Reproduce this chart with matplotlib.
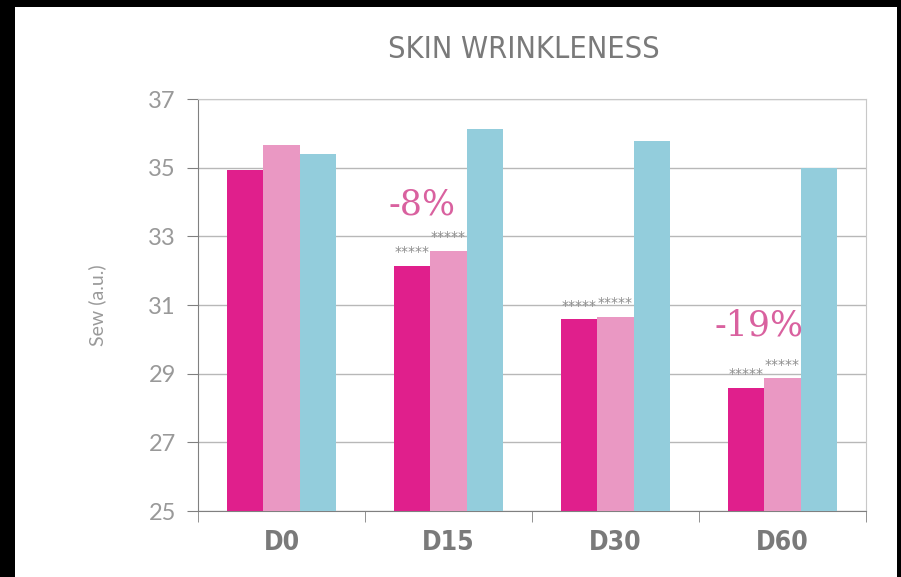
import numpy as np
import matplotlib
matplotlib.use('Agg')
import matplotlib.pyplot as plt
from matplotlib.patches import Rectangle

# Daten
kategorien = ['D0', 'D15', 'D30', 'D60']
serie_a = [34.93, 32.14, 30.58, 28.59]   # magenta
serie_b = [35.66, 32.57, 30.66, 28.86]   # rosa
serie_c = [35.39, 36.12, 35.79, 35.00]   # blau
sterne_a = ['', '*****', '*****', '*****']
sterne_b = ['', '*****', '*****', '*****']
prozent = ['-8%', '-19%']
prozent_pos = [(0.84, 33.94), (2.86, 30.39)]
yticks = [25, 27, 29, 31, 33, 35, 37]

farben = ['#e01f8c', '#ea98c3', '#93cddc']

fig = plt.figure(figsize=(9.01, 5.77), dpi=100)
fig.patch.set_facecolor('white')
# schwarzer Rand links, oben, rechts
for rx, ry, rw, rh in [(0, 0, 15, 577), (0, 570, 901, 7), (897, 0, 4, 577)]:
    fig.patches.append(Rectangle((rx/901, ry/577), rw/901, rh/577, transform=fig.transFigure,
                                 facecolor='black', edgecolor='none'))

ax = fig.add_axes([198/901, 66/577, 668/901, 412/577])
ax.set_facecolor('white')

x = np.arange(len(kategorien))
w = 0.219
ax.bar(x - w, serie_a, w, color=farben[0], zorder=3)
ax.bar(x, serie_b, w, color=farben[1], zorder=3)
ax.bar(x + w, serie_c, w, color=farben[2], zorder=3)

# Sternchen ueber den Balken
for i in range(len(kategorien)):
    if sterne_a[i]:
        ax.text(x[i] - w, serie_a[i] + 0.2, sterne_a[i], ha='center', va='bottom',
                fontsize=10, color='#8c8c8c', zorder=4)
    if sterne_b[i]:
        ax.text(x[i], serie_b[i] + 0.2, sterne_b[i], ha='center', va='bottom',
                fontsize=10, color='#8c8c8c', zorder=4)

for txt, (px, py) in zip(prozent, prozent_pos):
    ax.text(px, py, txt, ha='center', va='center', fontsize=25,
            family='DejaVu Serif', color='#d9619f', zorder=5)

ax.set_xlim(-0.5, 3.5)
ax.set_ylim(25, 37)
ax.set_yticks(yticks)
ax.set_yticklabels([str(v) for v in yticks], fontsize=17, color='#999999',
                   family='Lato')
ax.yaxis.grid(True, color='#b8b8b8', linewidth=1, zorder=1)
ax.set_axisbelow(True)
ax.tick_params(axis='y', length=8, color='#808080', pad=8)

ax.set_xticks(x)
ax.set_xticklabels(kategorien, fontsize=19, color='#7a7a7a',
                   family='DejaVu Sans', fontstretch='condensed', fontweight='bold')
ax.set_xticks([-0.5, 0.5, 1.5, 2.5, 3.5], minor=True)
ax.tick_params(axis='x', which='major', length=0, pad=14)
ax.tick_params(axis='x', which='minor', length=8, color='#808080')

for s in ['top', 'right']:
    ax.spines[s].set_color('#c8c8c8')
for s in ['left', 'bottom']:
    ax.spines[s].set_color('#808080')

ax.set_ylabel('Sew (a.u.)', fontsize=14, color='#9a9a9a', family='Lato',
              labelpad=30)

fig.text(524/901, 1 - 49/577, 'SKIN WRINKLENESS', ha='center', va='center',
         fontsize=22, color='#7a7a7a', family='DejaVu Sans', fontstretch='condensed')

plt.savefig('out.png', dpi=100, facecolor=fig.get_facecolor())
